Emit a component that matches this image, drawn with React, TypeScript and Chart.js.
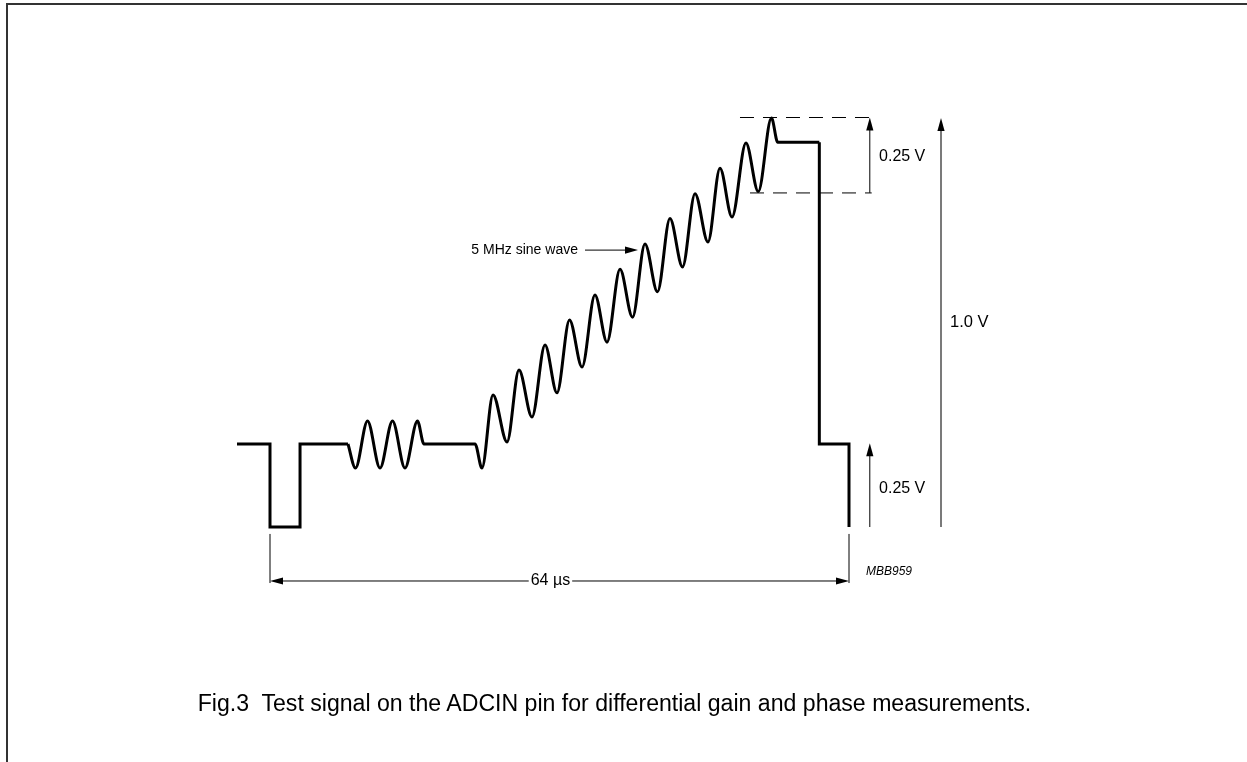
import React, { useEffect, useRef } from "react";
import { Chart, registerables } from "chart.js";

Chart.register(...registerables);

// Horizontal axis: time in µs from the sync leading edge (0 … 64 µs = one line)
// Vertical axis: level in V above the sync tip

// sync pulse and blanking before the burst
const syncTimes = [-3.65, 0, 0, 3.32, 3.32, 8.62];
const syncLevels = [0.203, 0.203, 0, 0, 0.203, 0.203];

// 3-cycle burst, blanking, 5 MHz sine on a rising ramp (extremes)
const waveTimes = [
  8.62, 9.45, 10.78, 12.16, 13.54, 14.92, 16.3, 17.02, 22.66, 23.43, 24.65, 26.2, 27.52, 28.96,
  30.4, 31.72, 33.11, 34.49, 35.92, 37.25, 38.69, 40.07, 41.45, 42.83, 44.21, 45.6, 46.98, 48.41,
  49.74, 51.07, 52.61, 53.97, 55.43, 56.12, 60.72,
];
const waveLevels = [
  0.203, 0.144, 0.259, 0.144, 0.259, 0.144, 0.259, 0.203, 0.203, 0.144, 0.323, 0.208, 0.384, 0.269,
  0.445, 0.328, 0.506, 0.391, 0.567, 0.452, 0.63, 0.513, 0.692, 0.575, 0.754, 0.636, 0.815, 0.697,
  0.877, 0.758, 0.939, 0.82, 1.0, 0.941, 0.941,
];

// white level, back to blanking and the next sync edge
const endTimes = [60.72, 60.72, 64, 64];
const endLevels = [0.941, 0.203, 0.203, 0];

// dashed reference levels for the 0.25 V peak-to-peak sine
const peakRefTimes = [51.95, 66.51];
const peakRefLevel = 1.0012;
const troughRefTimes = [53.06, 66.51];
const troughRefLevel = 0.817;

// dimension labels
const lineLengthLabel = "64 µs";
const sineLabel = "5 MHz sine wave";
const ampLabel = "0.25 V";
const fullLabel = "1.0 V";
const blankLabel = "0.25 V";
const codeLabel = "MBB959";
const caption = "Fig.3  Test signal on the ADCIN pin for differential gain and phase measurements.";

const PX_PER_US = 579 / 64;
const PX_PER_V = 409;
const X_MIN = -12;
const X_MAX = 88;
const Y_MIN = -0.3;
const Y_MAX = 1.2;

const pts = (xs: number[], ys: number[]) => xs.map((x, i) => ({ x, y: ys[i] }));
const FONT = "'Liberation Sans', Arial, Helvetica, sans-serif";

const annotationPlugin = {
  id: "annotations",
  afterDatasetsDraw(chart: any) {
    const ctx: CanvasRenderingContext2D = chart.ctx;
    const X = (v: number) => chart.scales.x.getPixelForValue(v);
    const Y = (v: number) => chart.scales.y.getPixelForValue(v);
    const head = (x1: number, y1: number, x2: number, y2: number) => {
      const a = Math.atan2(y2 - y1, x2 - x1);
      const L = 13, W = 3.6;
      ctx.beginPath();
      ctx.moveTo(x2, y2);
      ctx.lineTo(x2 - L * Math.cos(a) + W * Math.sin(a), y2 - L * Math.sin(a) - W * Math.cos(a));
      ctx.lineTo(x2 - L * Math.cos(a) - W * Math.sin(a), y2 - L * Math.sin(a) + W * Math.cos(a));
      ctx.closePath();
      ctx.fillStyle = "#000";
      ctx.fill();
    };
    const line = (x1: number, y1: number, x2: number, y2: number, color = "#000", w = 1) => {
      ctx.beginPath();
      ctx.moveTo(x1, y1);
      ctx.lineTo(x2, y2);
      ctx.strokeStyle = color;
      ctx.lineWidth = w;
      ctx.stroke();
    };
    const text = (s: string, x: number, y: number, align: CanvasTextAlign, size: number, italic = false) => {
      ctx.font = `${italic ? "italic " : ""}${size}px ${FONT}`;
      ctx.fillStyle = "#000";
      ctx.textAlign = align;
      ctx.textBaseline = "middle";
      ctx.fillText(s, x, y);
    };
    ctx.save();
    // 0.25 V sine amplitude arrow
    const xa = X(66.3);
    line(xa, Y(troughRefLevel), xa, Y(peakRefLevel) + 6);
    head(xa, Y(troughRefLevel), xa, Y(peakRefLevel));
    text(ampLabel, X(67.32), Y(0.905), "left", 16);
    // 1.0 V arrow
    const xf = X(74.17);
    line(xf, Y(0), xf, Y(1.0) + 6, "#7a7a7a", 2);
    head(xf, Y(0), xf, Y(1.0));
    text(fullLabel, X(75.16), Y(0.5), "left", 16.5);
    // 0.25 V blanking arrow
    line(xa, Y(0), xa, Y(0.205) + 6);
    head(xa, Y(0), xa, Y(0.205));
    text(blankLabel, X(67.32), Y(0.093), "left", 16);
    // 64 µs dimension
    const yd = Y(-0.132);
    line(X(0), Y(-0.017), X(0), Y(-0.137));
    line(X(64), Y(-0.017), X(64), Y(-0.137));
    ctx.font = `16px ${FONT}`;
    const tw = ctx.measureText(lineLengthLabel).width;
    const xc = X(31);
    line(X(0) + 6, yd, xc - tw / 2 - 2, yd);
    line(xc + tw / 2 + 2, yd, X(64) - 6, yd);
    head(X(32), yd, X(0), yd);
    head(X(32), yd, X(64), yd);
    text(lineLengthLabel, xc, yd, "center", 16);
    text(codeLabel, X(65.88), Y(-0.108), "left", 12, true);
    // 5 MHz sine wave pointer
    const ys = Y(0.677);
    line(X(34.82), ys, X(40.68) - 6, ys);
    head(X(34.82), ys, X(40.68), ys);
    text(sineLabel, X(34.04), ys, "right", 14);
    ctx.restore();
  },
};

export default function App() {
  const ref = useRef<HTMLCanvasElement | null>(null);
  useEffect(() => {
    if (!ref.current) return;
    const trace = {
      showLine: true,
      pointRadius: 0,
      borderColor: "#000",
      borderWidth: 3,
      borderJoinStyle: "miter" as const,
      fill: false,
    };
    const chart = new Chart(ref.current, {
      type: "scatter",
      data: {
        datasets: [
          { ...trace, label: "sync", data: pts(syncTimes, syncLevels), tension: 0 },
          {
            ...trace,
            label: "burst and staircase sine",
            data: pts(waveTimes, waveLevels),
            cubicInterpolationMode: "monotone",
            borderJoinStyle: "round",
          },
          { ...trace, label: "white and sync", data: pts(endTimes, endLevels), tension: 0 },
          {
            showLine: true,
            pointRadius: 0,
            label: "peak level",
            data: pts(peakRefTimes, peakRefTimes.map(() => peakRefLevel)),
            borderColor: "#000",
            borderWidth: 1,
            borderDash: [14, 9],
          },
          {
            showLine: true,
            pointRadius: 0,
            label: "trough level",
            data: pts(troughRefTimes, troughRefTimes.map(() => troughRefLevel)),
            borderColor: "#6e6e6e",
            borderWidth: 1.6,
            borderDash: [14, 9],
          },
        ] as any,
      },
      options: {
        animation: false,
        responsive: false,
        events: [],
        layout: {
          padding: {
            left: 270 + X_MIN * PX_PER_US,
            right: 1247 - (270 + X_MAX * PX_PER_US),
            top: 118 - (Y_MAX - 1) * PX_PER_V,
            bottom: 762 - (527 - Y_MIN * PX_PER_V),
          },
        },
        scales: {
          x: { type: "linear", min: X_MIN, max: X_MAX, display: false },
          y: { type: "linear", min: Y_MIN, max: Y_MAX, display: false },
        },
        plugins: { legend: { display: false }, tooltip: { enabled: false }, title: { display: false } },
      },
      plugins: [annotationPlugin],
    });
    return () => chart.destroy();
  }, []);

  return (
    <div style={{ position: "fixed", left: 0, top: 0, width: 1247, height: 762, background: "#fff", overflow: "hidden" }}>
      <canvas ref={ref} width={1247} height={762} style={{ position: "absolute", left: 0, top: 0, width: 1247, height: 762 }} />
      <div
        style={{
          position: "absolute",
          left: 6,
          top: 3,
          width: 1260,
          height: 780,
          borderTop: "2px solid #333",
          borderLeft: "2px solid #333",
          pointerEvents: "none",
        }}
      />
      <div
        style={{
          position: "absolute",
          left: 0,
          top: 689,
          width: 1229,
          textAlign: "center",
          fontFamily: FONT,
          fontSize: 23.1,
          lineHeight: "28px",
          color: "#000",
          whiteSpace: "pre",
        }}
      >
        {caption}
      </div>
    </div>
  );
}
